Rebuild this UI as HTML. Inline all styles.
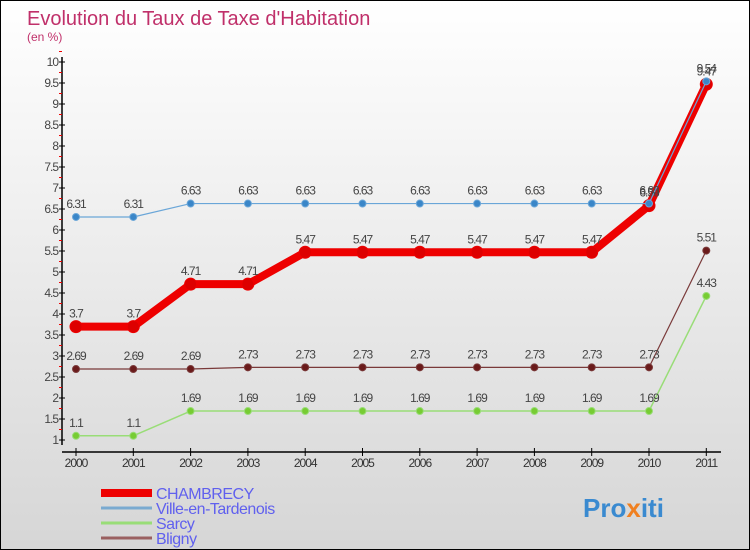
<!DOCTYPE html>
<html><head><meta charset="utf-8"><style>
body{margin:0}
#c{width:748px;height:548px;border:1px solid #000;background:linear-gradient(#fff,#d6d6d6);position:relative;font-family:"Liberation Sans",sans-serif}
</style></head><body>
<div id="c">
<svg id="s" width="748" height="548" style="position:absolute;left:0;top:0">
<text x="26" y="24" font-size="20" fill="#c0306a">Evolution du Taux de Taxe d'Habitation</text>
<text x="26" y="40" font-size="12" fill="#c0306a">(en %)</text>
<g id="axes"></g><g id="series"></g><g id="legend"></g>
<text x="582" y="516" font-size="26" font-weight="bold" fill="#3a8ad0">Pro<tspan fill="#f08020">x</tspan>iti</text>
</svg></div>
<script>
const years=[2000,2001,2002,2003,2004,2005,2006,2007,2008,2009,2010,2011];
const chambrecy=[3.7,3.7,4.71,4.71,5.47,5.47,5.47,5.47,5.47,5.47,6.58,9.47];
const ville=[6.31,6.31,6.63,6.63,6.63,6.63,6.63,6.63,6.63,6.63,6.63,9.54];
const sarcy=[1.1,1.1,1.69,1.69,1.69,1.69,1.69,1.69,1.69,1.69,1.69,4.43];
const bligny=[2.69,2.69,2.69,2.73,2.73,2.73,2.73,2.73,2.73,2.73,2.73,5.51];
const yTicks=[1,1.5,2,2.5,3,3.5,4,4.5,5,5.5,6,6.5,7,7.5,8,8.5,9,9.5,10];
const NS="http://www.w3.org/2000/svg";
const X=i=>75+i*57.3, Y=v=>439-(v-1)*42;
function mk(t,a,p){const e=document.createElementNS(NS,t);for(const k in a)e.setAttribute(k,a[k]);p.appendChild(e);return e;}
const ax=document.getElementById('axes');
let l=mk('line',{x1:61,y1:56,x2:61,y2:444,stroke:'#000','stroke-width':1.5},ax);


l=mk('line',{x1:61,y1:451,x2:720,y2:451,stroke:'#000','stroke-width':1.5},ax);


yTicks.forEach(v=>{
 mk('line',{x1:58,y1:Y(v),x2:64,y2:Y(v),stroke:'#000'},ax);
 mk('line',{x1:58,y1:Y(v+0.25),x2:61,y2:Y(v+0.25),stroke:'#e00'},ax);
 const t=mk('text',{x:57,y:Y(v)+4,'text-anchor':'end','font-size':12,fill:'#444','letter-spacing':-1},ax);
 t.textContent=v;
 
 
});
years.forEach((y,i)=>{
 mk('line',{x1:X(i),y1:447,x2:X(i),y2:455,stroke:'#000'},ax);
 const t=mk('text',{x:X(i),y:466,'text-anchor':'middle','font-size':12,fill:'#333','letter-spacing':-1},ax);
 t.textContent=y;
 
 
});
const sg=document.getElementById('series');
function draw(vals,color,w,r,dot,name){
 const g=mk('g',{},sg);
 
 
 mk('polyline',{points:vals.map((v,i)=>X(i)+','+Y(v)).join(' '),fill:'none',stroke:color,'stroke-width':w,'stroke-linejoin':'round'},g);
 vals.forEach((v,i)=>{
  const c=mk('circle',{cx:X(i),cy:Y(v),r:r,fill:dot,stroke:color,'stroke-width':1},g);
  
  
  const t=mk('text',{x:X(i),y:Y(v)-9,'text-anchor':'middle','font-size':12,fill:'#444','letter-spacing':-1},g);
  t.textContent=v;
  
  
 });
}
draw(bligny,'#7a3a3a',1.2,3.5,'#6a1a1a','bligny');
draw(sarcy,'#99dd77',1.5,3.5,'#77cc33','sarcy');
draw(chambrecy,'#ee0000',8,6,'#dd0000','chambrecy');
draw(ville,'#6aa6d8',1.2,3.5,'#3a86c8','ville');
const lg=document.getElementById('legend');
[['CHAMBRECY','#ee0000',8],['Ville-en-Tardenois','#7aaad0',3],['Sarcy','#99dd77',3],['Bligny','#9a6060',3]].forEach((d,i)=>{
 const y=492+i*15;
 const g=mk('g',{},lg);
 
 
 mk('line',{x1:100,y1:y,x2:151,y2:y,stroke:d[1],'stroke-width':d[2]},g);
 const t=mk('text',{x:155,y:y+6,'font-size':16,fill:'#6060ee','letter-spacing':-0.5},g);
 t.textContent=d[0];
});
</script></body></html>
